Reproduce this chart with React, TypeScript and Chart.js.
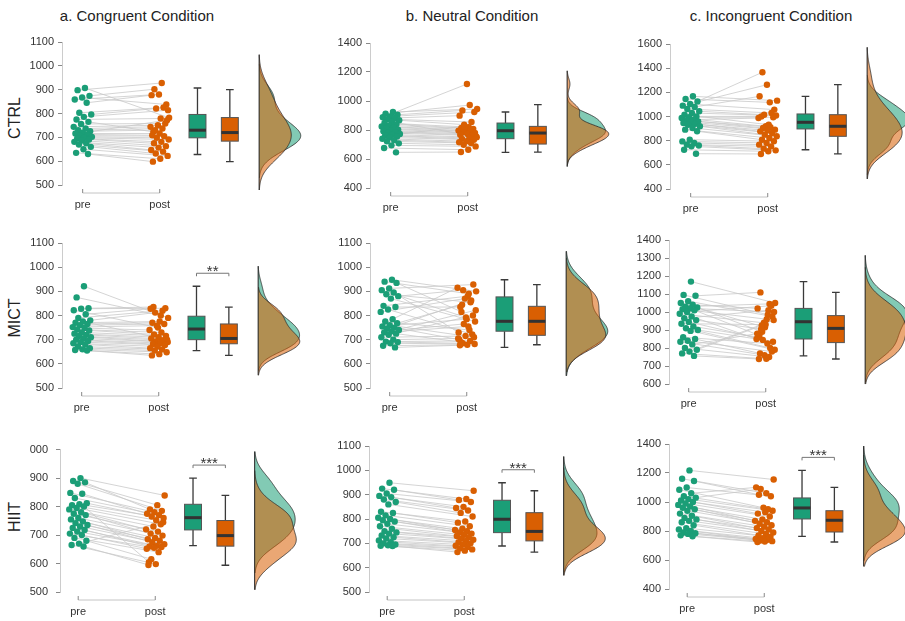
import { useEffect, useRef } from 'react';
import { Chart, registerables } from 'chart.js';

Chart.register(...registerables);
Chart.defaults.font.family = "'Liberation Sans', Arial, Helvetica, sans-serif";

// ---------- labels ----------
const conditionTitles = ['a. Congruent Condition', 'b. Neutral Condition', 'c. Incongruent Condition'];
const groupNames = ['CTRL', 'MICT', 'HIIT'];
const timeLabels = ['pre', 'post'];

// ---------- data: reaction times (ms), pre[i] paired with post[i] ----------
const ctrlCongruentPre = [907, 898, 874, 867, 859, 845, 803, 796, 786, 775, 765, 756, 744, 737, 730, 726, 719, 716, 712, 707, 702, 698, 695, 691, 686, 681, 675, 670, 660, 650, 635, 630];
const ctrlCongruentPost = [782, 928, 902, 838, 880, 877, 825, 821, 814, 779, 723, 758, 751, 744, 737, 730, 772, 716, 709, 705, 698, 691, 681, 675, 663, 657, 647, 640, 632, 622, 610, 598];
const ctrlNeutralPre = [924, 913, 905, 894, 888, 883, 875, 867, 855, 848, 840, 832, 825, 818, 810, 802, 795, 791, 785, 779, 772, 768, 762, 756, 748, 740, 730, 722, 708, 694, 676, 646];
const ctrlNeutralPost = [945, 972, 935, 924, 1117, 899, 855, 837, 756, 820, 814, 808, 802, 796, 791, 785, 779, 773, 768, 762, 825, 750, 745, 739, 733, 722, 716, 710, 698, 687, 664, 648];
const ctrlIncongruentPre = [1167, 1145, 1125, 1103, 1090, 1079, 1062, 1043, 1029, 1015, 1001, 994, 987, 974, 967, 960, 953, 946, 939, 932, 919, 905, 891, 878, 808, 794, 781, 767, 760, 753, 725, 692];
const ctrlIncongruentPost = [1131, 1117, 1366, 1057, 1263, 1167, 1029, 1015, 1008, 932, 1001, 994, 919, 987, 912, 905, 891, 884, 877, 863, 850, 836, 822, 808, 795, 781, 767, 753, 734, 720, 712, 690];

const mictCongruentPre = [921, 875, 830, 828, 822, 805, 790, 780, 775, 770, 765, 760, 752, 748, 742, 738, 730, 725, 720, 715, 710, 705, 700, 695, 690, 685, 680, 672, 665, 660, 657, 655];
const mictCongruentPost = [790, 800, 835, 830, 750, 828, 820, 812, 700, 775, 770, 765, 758, 740, 730, 722, 715, 710, 705, 698, 693, 690, 686, 682, 678, 672, 665, 660, 655, 648, 640, 635];
const mictNeutralPre = [948, 940, 935, 912, 905, 895, 888, 880, 870, 840, 835, 825, 815, 785, 775, 768, 760, 755, 750, 745, 740, 735, 730, 725, 720, 710, 700, 692, 690, 685, 675, 668];
const mictNeutralPost = [900, 890, 815, 928, 792, 730, 855, 905, 775, 880, 835, 722, 870, 915, 740, 845, 710, 785, 700, 862, 765, 822, 755, 690, 800, 715, 705, 695, 685, 682, 679, 677];
const mictIncongruentPre = [1169, 1095, 1090, 1060, 1050, 1040, 1030, 1025, 1020, 1015, 1010, 1000, 990, 975, 965, 955, 945, 935, 920, 910, 900, 895, 860, 850, 840, 835, 820, 800, 790, 780, 770, 756];
const mictIncongruentPost = [1050, 985, 1109, 975, 915, 1020, 1045, 890, 1000, 960, 870, 1035, 940, 850, 1010, 905, 835, 930, 860, 800, 845, 790, 825, 770, 780, 760, 880, 750, 925, 955, 740, 739];

const hiitCongruentPre = [900, 890, 885, 880, 848, 845, 830, 812, 808, 805, 800, 795, 790, 780, 775, 770, 760, 755, 748, 742, 735, 730, 725, 718, 712, 705, 700, 690, 680, 670, 665, 660];
const hiitCongruentPost = [839, 805, 790, 785, 780, 775, 770, 765, 760, 752, 605, 738, 730, 720, 712, 705, 698, 690, 685, 680, 675, 668, 662, 660, 658, 655, 652, 640, 615, 745, 598, 595];
const hiitNeutralPre = [949, 925, 920, 905, 895, 890, 880, 870, 860, 830, 825, 815, 805, 800, 795, 790, 780, 770, 760, 750, 745, 740, 732, 725, 720, 712, 705, 700, 695, 692, 690, 689];
const hiitNeutralPost = [916, 882, 878, 870, 850, 845, 835, 825, 810, 790, 785, 770, 760, 755, 750, 745, 740, 735, 730, 725, 720, 715, 710, 705, 700, 695, 690, 685, 680, 675, 670, 664];
const hiitIncongruentPre = [1218, 1160, 1145, 1100, 1085, 1060, 1040, 1030, 1020, 1010, 1000, 990, 980, 970, 960, 950, 940, 920, 905, 890, 880, 870, 860, 840, 820, 810, 800, 790, 785, 780, 770, 763];
const hiitIncongruentPost = [1155, 1060, 1050, 1040, 960, 1101, 950, 1090, 940, 930, 920, 900, 880, 870, 860, 850, 840, 830, 820, 810, 800, 790, 780, 770, 760, 750, 745, 740, 735, 730, 727, 724];

// ---------- box statistics [min, q1, median, q3, max] ----------
const ctrlCongruentPreBox = [628, 698, 730, 796, 907];
const ctrlCongruentPostBox = [598, 684, 720, 783, 900];
const ctrlNeutralPreBox = [646, 740, 795, 848, 924];
const ctrlNeutralPostBox = [648, 703, 779, 825, 975];
const ctrlIncongruentPreBox = [725, 897, 952, 1021, 1167];
const ctrlIncongruentPostBox = [690, 836, 919, 1015, 1263];
const mictCongruentPreBox = [655, 700, 744, 797, 921];
const mictCongruentPostBox = [635, 683, 705, 765, 835];
const mictNeutralPreBox = [668, 735, 776, 877, 948];
const mictNeutralPostBox = [679, 718, 776, 838, 928];
const mictIncongruentPreBox = [756, 850, 946, 1020, 1169];
const mictIncongruentPostBox = [739, 830, 909, 980, 1109];
const hiitCongruentPreBox = [663, 718, 761, 808, 900];
const hiitCongruentPostBox = [594, 661, 698, 751, 839];
const hiitNeutralPreBox = [689, 744, 799, 877, 949];
const hiitNeutralPostBox = [664, 710, 749, 826, 916];
const hiitIncongruentPreBox = [763, 883, 959, 1028, 1218];
const hiitIncongruentPostBox = [724, 793, 874, 940, 1101];

// ---------- y-axis ticks [min, max, step] ----------
const ctrlCongruentTicks = [500, 1100, 100];
const ctrlNeutralTicks = [400, 1400, 200];
const ctrlIncongruentTicks = [400, 1600, 200];
const mictCongruentTicks = [500, 1100, 100];
const mictNeutralTicks = [500, 1100, 100];
const mictIncongruentTicks = [600, 1400, 100];
const hiitCongruentTicks = [500, 1000, 100];
const hiitNeutralTicks = [500, 1100, 100];
const hiitIncongruentTicks = [400, 1400, 200];

// ---------- significance of pre vs post ----------
const ctrlSignificance = ['', '', ''];
const mictSignificance = ['**', '', ''];
const hiitSignificance = ['***', '***', '***'];

// ---------- styling / layout ----------
const GREEN = '#1B9E77';
const ORANGE = '#D95F02';
const GREEN_FILL = 'rgba(27,158,119,0.55)';
const ORANGE_FILL = 'rgba(217,95,2,0.55)';
const PX_PER_UNIT = 78.3;
const PLOT_W = 252;
const PAD_TOP = 12;
const XAXIS_H = 30;
const PRE_BOX_X = 2.49;
const POST_BOX_X = 2.91;
const BOX_HALF = 0.11;
const CAP_HALF = 0.05;
const DENS_BASE = 3.29;
const DENS_W = 0.54;
const BW_ADJUST = 1.25;

const axisXs = [[62, 370, 670], [62, 370, 669], [60, 369, 669]];
const axisTops = [[42, 43, 44], [243, 243, 240], [447, 446, 444]];
const plotHs = [[143, 145, 145], [145, 145, 144], [145, 146, 145]];
const preOffsets = [21, 20, 18.5];

const titleCenters = [137, 472, 771];
const rowLabelCenters = [118, 318, 517];

type PanelSpec = {
  row: number; col: number;
  pre: number[]; post: number[];
  preBox: number[]; postBox: number[];
  ticks: number[]; sig: string;
};

const panelSpecs: PanelSpec[] = [
  { row: 0, col: 0, pre: ctrlCongruentPre, post: ctrlCongruentPost, preBox: ctrlCongruentPreBox, postBox: ctrlCongruentPostBox, ticks: ctrlCongruentTicks, sig: ctrlSignificance[0] },
  { row: 0, col: 1, pre: ctrlNeutralPre, post: ctrlNeutralPost, preBox: ctrlNeutralPreBox, postBox: ctrlNeutralPostBox, ticks: ctrlNeutralTicks, sig: ctrlSignificance[1] },
  { row: 0, col: 2, pre: ctrlIncongruentPre, post: ctrlIncongruentPost, preBox: ctrlIncongruentPreBox, postBox: ctrlIncongruentPostBox, ticks: ctrlIncongruentTicks, sig: ctrlSignificance[2] },
  { row: 1, col: 0, pre: mictCongruentPre, post: mictCongruentPost, preBox: mictCongruentPreBox, postBox: mictCongruentPostBox, ticks: mictCongruentTicks, sig: mictSignificance[0] },
  { row: 1, col: 1, pre: mictNeutralPre, post: mictNeutralPost, preBox: mictNeutralPreBox, postBox: mictNeutralPostBox, ticks: mictNeutralTicks, sig: mictSignificance[1] },
  { row: 1, col: 2, pre: mictIncongruentPre, post: mictIncongruentPost, preBox: mictIncongruentPreBox, postBox: mictIncongruentPostBox, ticks: mictIncongruentTicks, sig: mictSignificance[2] },
  { row: 2, col: 0, pre: hiitCongruentPre, post: hiitCongruentPost, preBox: hiitCongruentPreBox, postBox: hiitCongruentPostBox, ticks: hiitCongruentTicks, sig: hiitSignificance[0] },
  { row: 2, col: 1, pre: hiitNeutralPre, post: hiitNeutralPost, preBox: hiitNeutralPreBox, postBox: hiitNeutralPostBox, ticks: hiitNeutralTicks, sig: hiitSignificance[1] },
  { row: 2, col: 2, pre: hiitIncongruentPre, post: hiitIncongruentPost, preBox: hiitIncongruentPreBox, postBox: hiitIncongruentPostBox, ticks: hiitIncongruentTicks, sig: hiitSignificance[2] },
];

// deterministic horizontal jitter (position only)
function jitter(i: number, side: number): number {
  const f = ((i + 1) * 0.6180339887 + side * 0.37) % 1;
  return (f - 0.5) * 0.25;
}

function quantile(sorted: number[], q: number): number {
  const h = (sorted.length - 1) * q;
  const lo = Math.floor(h);
  const hi = Math.ceil(h);
  return sorted[lo] + (sorted[hi] - sorted[lo]) * (h - lo);
}

function bandwidth(values: number[]): number {
  const n = values.length;
  const mean = values.reduce((a, b) => a + b, 0) / n;
  const sd = Math.sqrt(values.reduce((a, b) => a + (b - mean) ** 2, 0) / (n - 1));
  const s = [...values].sort((a, b) => a - b);
  const iqr = quantile(s, 0.75) - quantile(s, 0.25);
  const lo = Math.min(sd, iqr / 1.34);
  return 0.9 * lo * Math.pow(n, -0.2);
}

function densityCurve(values: number[]) {
  const bw0 = bandwidth(values);
  const bw = bw0 * BW_ADJUST;
  const lo = Math.min(...values) - 3 * bw0;
  const hi = Math.max(...values) + 3 * bw0;
  const N = 160;
  const ys: number[] = [];
  const ds: number[] = [];
  for (let k = 0; k <= N; k++) {
    const y = lo + ((hi - lo) * k) / N;
    let s = 0;
    for (const v of values) s += Math.exp(-0.5 * ((y - v) / bw) ** 2);
    ys.push(y);
    ds.push(s / (values.length * bw * Math.sqrt(2 * Math.PI)));
  }
  return { ys, ds, lo, hi };
}

function Panel({ spec }: { spec: PanelSpec }) {
  const ref = useRef<HTMLCanvasElement>(null);
  const { row, col } = spec;
  const isClipped = row === 2 && col === 0;
  const yAxisW = isClipped ? 30 : 50;
  const tickPad = isClipped ? 8 : 4;
  const axisX = axisXs[row][col];
  const axisTop = axisTops[row][col];
  const plotH = plotHs[row][col];
  const left = axisX - yAxisW;
  const top = axisTop - PAD_TOP;
  const width = yAxisW + PLOT_W;
  const height = PAD_TOP + plotH + XAXIS_H;

  useEffect(() => {
    const xMin = 1 - preOffsets[row] / PX_PER_UNIT;
    const xMax = xMin + PLOT_W / PX_PER_UNIT;
    const prePts = spec.pre.map((v, i) => ({ x: 1 + jitter(i, 0), y: v }));
    const postPts = spec.post.map((v, i) => ({ x: 2 + jitter(i, 1), y: v }));
    const pairs: { x: number; y: number | null }[] = [];
    spec.pre.forEach((v, i) => {
      pairs.push({ x: prePts[i].x, y: v });
      pairs.push({ x: postPts[i].x, y: spec.post[i] });
      pairs.push({ x: postPts[i].x, y: null });
    });

    const rainPlugin = {
      id: 'rain' + row + col,
      afterDatasetsDraw(chart: any) {
        const ctx: CanvasRenderingContext2D = chart.ctx;
        const xs = chart.scales.x;
        const ysc = chart.scales.y;
        const unit = xs.getPixelForValue(1) - xs.getPixelForValue(0);
        ctx.save();

        // boxes
        const drawBox = (b: number[], xc: number, fill: string) => {
          const px = xs.getPixelForValue(xc);
          const hw = BOX_HALF * unit;
          const cw = CAP_HALF * unit;
          const [mn, q1, md, q3, mx] = b.map((v) => ysc.getPixelForValue(v));
          ctx.strokeStyle = '#3a3a3a';
          ctx.lineWidth = 1.3;
          ctx.beginPath();
          ctx.moveTo(px, mx); ctx.lineTo(px, q3);
          ctx.moveTo(px, q1); ctx.lineTo(px, mn);
          ctx.moveTo(px - cw, mx); ctx.lineTo(px + cw, mx);
          ctx.moveTo(px - cw, mn); ctx.lineTo(px + cw, mn);
          ctx.stroke();
          ctx.fillStyle = fill;
          ctx.fillRect(px - hw, q3, 2 * hw, q1 - q3);
          ctx.lineWidth = 1;
          ctx.strokeStyle = '#555';
          ctx.strokeRect(px - hw, q3, 2 * hw, q1 - q3);
          ctx.strokeStyle = '#333';
          ctx.lineWidth = 3;
          ctx.beginPath();
          ctx.moveTo(px - hw, md); ctx.lineTo(px + hw, md);
          ctx.stroke();
        };
        drawBox(spec.preBox, PRE_BOX_X, GREEN);
        drawBox(spec.postBox, POST_BOX_X, ORANGE);

        // significance bracket
        if (spec.sig) {
          const x1 = xs.getPixelForValue(PRE_BOX_X);
          const x2 = xs.getPixelForValue(POST_BOX_X);
          const yb = Math.min(ysc.getPixelForValue(spec.preBox[4]), ysc.getPixelForValue(spec.postBox[4])) - 13;
          ctx.strokeStyle = '#777';
          ctx.lineWidth = 1;
          ctx.beginPath();
          ctx.moveTo(x1, yb + 3); ctx.lineTo(x1, yb); ctx.lineTo(x2, yb); ctx.lineTo(x2, yb + 3);
          ctx.stroke();
          ctx.fillStyle = '#333';
          ctx.font = "15px 'Liberation Sans', Arial, sans-serif";
          ctx.textAlign = 'center';
          ctx.textBaseline = 'alphabetic';
          ctx.fillText(spec.sig, (x1 + x2) / 2, yb + 3);
        }

        // densities
        const base = xs.getPixelForValue(DENS_BASE);
        const dPre = densityCurve(spec.pre);
        const dPost = densityCurve(spec.post);
        const maxD = Math.max(...dPre.ds, ...dPost.ds);
        const k = (DENS_W * unit) / maxD;
        const drawDens = (d: ReturnType<typeof densityCurve>, fill: string) => {
          ctx.beginPath();
          ctx.moveTo(base, ysc.getPixelForValue(d.lo));
          d.ys.forEach((y, i) => ctx.lineTo(base + d.ds[i] * k, ysc.getPixelForValue(y)));
          ctx.lineTo(base, ysc.getPixelForValue(d.hi));
          ctx.closePath();
          ctx.fillStyle = fill;
          ctx.fill();
          ctx.beginPath();
          d.ys.forEach((y, i) => {
            const X = base + d.ds[i] * k;
            const Y = ysc.getPixelForValue(y);
            if (i === 0) ctx.moveTo(X, Y); else ctx.lineTo(X, Y);
          });
          ctx.strokeStyle = '#2b2b2b';
          ctx.lineWidth = 0.8;
          ctx.stroke();
        };
        drawDens(dPre, GREEN_FILL);
        drawDens(dPost, ORANGE_FILL);
        ctx.beginPath();
        ctx.moveTo(base, ysc.getPixelForValue(Math.min(dPre.lo, dPost.lo)));
        ctx.lineTo(base, ysc.getPixelForValue(Math.max(dPre.hi, dPost.hi)));
        ctx.strokeStyle = '#222';
        ctx.lineWidth = 1;
        ctx.stroke();

        // x bracket
        const xb = chart.chartArea.bottom + 8;
        const p1 = xs.getPixelForValue(1);
        const p2 = xs.getPixelForValue(2);
        ctx.strokeStyle = '#c4c4c4';
        ctx.lineWidth = 1;
        ctx.beginPath();
        ctx.moveTo(p1, xb); ctx.lineTo(p2, xb);
        ctx.stroke();
        ctx.strokeStyle = '#888';
        ctx.beginPath();
        ctx.moveTo(p1, xb - 4); ctx.lineTo(p1, xb);
        ctx.moveTo(p2, xb - 4); ctx.lineTo(p2, xb);
        ctx.stroke();
        ctx.restore();
      },
    };

    const chart = new Chart(ref.current as HTMLCanvasElement, {
      type: 'scatter',
      data: {
        datasets: [
          { data: prePts, backgroundColor: GREEN, borderColor: GREEN, pointRadius: 3.2, borderWidth: 0, clip: false, order: 0 } as any,
          { data: postPts, backgroundColor: ORANGE, borderColor: ORANGE, pointRadius: 3.2, borderWidth: 0, clip: false, order: 0 } as any,
          { data: pairs, showLine: true, spanGaps: false, borderColor: '#c9c9c9', borderWidth: 0.8, pointRadius: 0, clip: false, order: 2 } as any,
        ],
      },
      options: {
        animation: false,
        responsive: false,
        maintainAspectRatio: false,
        events: [],
        layout: { padding: { top: PAD_TOP, left: 0, right: 0, bottom: 0 } },
        plugins: { legend: { display: false }, tooltip: { enabled: false } },
        scales: {
          x: {
            type: 'linear',
            min: xMin,
            max: xMax,
            afterBuildTicks: (s: any) => { s.ticks = [{ value: 1 }, { value: 2 }]; },
            afterFit: (s: any) => { s.height = XAXIS_H; },
            ticks: {
              autoSkip: false,
              maxRotation: 0,
              padding: 13,
              color: '#333',
              font: { size: 11 },
              callback: (v: any) => timeLabels[Math.round(Number(v)) - 1] ?? '',
            },
            grid: { display: false, drawTicks: false },
            border: { display: false },
          },
          y: {
            type: 'linear',
            min: spec.ticks[0],
            max: spec.ticks[1],
            afterFit: (s: any) => { s.width = yAxisW; },
            ticks: {
              stepSize: spec.ticks[2], color: '#333', font: { size: 11 }, padding: tickPad, autoSkip: false,
              callback: (v: any) => String(v),
            },
            grid: { drawOnChartArea: false, drawTicks: true, tickLength: 4, color: '#888' },
            border: { display: true, color: '#cccccc' },
          },
        },
      } as any,
      plugins: [rainPlugin],
    });
    return () => chart.destroy();
  }, []);

  return (
    <canvas
      ref={ref}
      width={width}
      height={height}
      style={{ position: 'absolute', left, top, width, height }}
    />
  );
}

export default function App() {
  const font = "'Liberation Sans', Arial, Helvetica, sans-serif";
  return (
    <div
      style={{
        position: 'fixed', left: 0, top: 0, width: 905, height: 621,
        overflow: 'hidden', background: '#fff', fontFamily: font,
      }}
    >
      {conditionTitles.map((t, i) => (
        <div
          key={t}
          style={{
            position: 'absolute', left: titleCenters[i], top: 15, transform: 'translate(-50%, -50%)',
            fontSize: 15, color: '#222', whiteSpace: 'nowrap', lineHeight: 1,
          }}
        >
          {t}
        </div>
      ))}
      {groupNames.map((g, i) => (
        <div
          key={g}
          style={{
            position: 'absolute', left: 15, top: rowLabelCenters[i],
            transform: 'translate(-50%, -50%) rotate(-90deg)',
            fontSize: 16, color: '#222', whiteSpace: 'nowrap', lineHeight: 1,
          }}
        >
          {g}
        </div>
      ))}
      {panelSpecs.map((s) => (
        <Panel key={`${s.row}-${s.col}`} spec={s} />
      ))}
    </div>
  );
}
